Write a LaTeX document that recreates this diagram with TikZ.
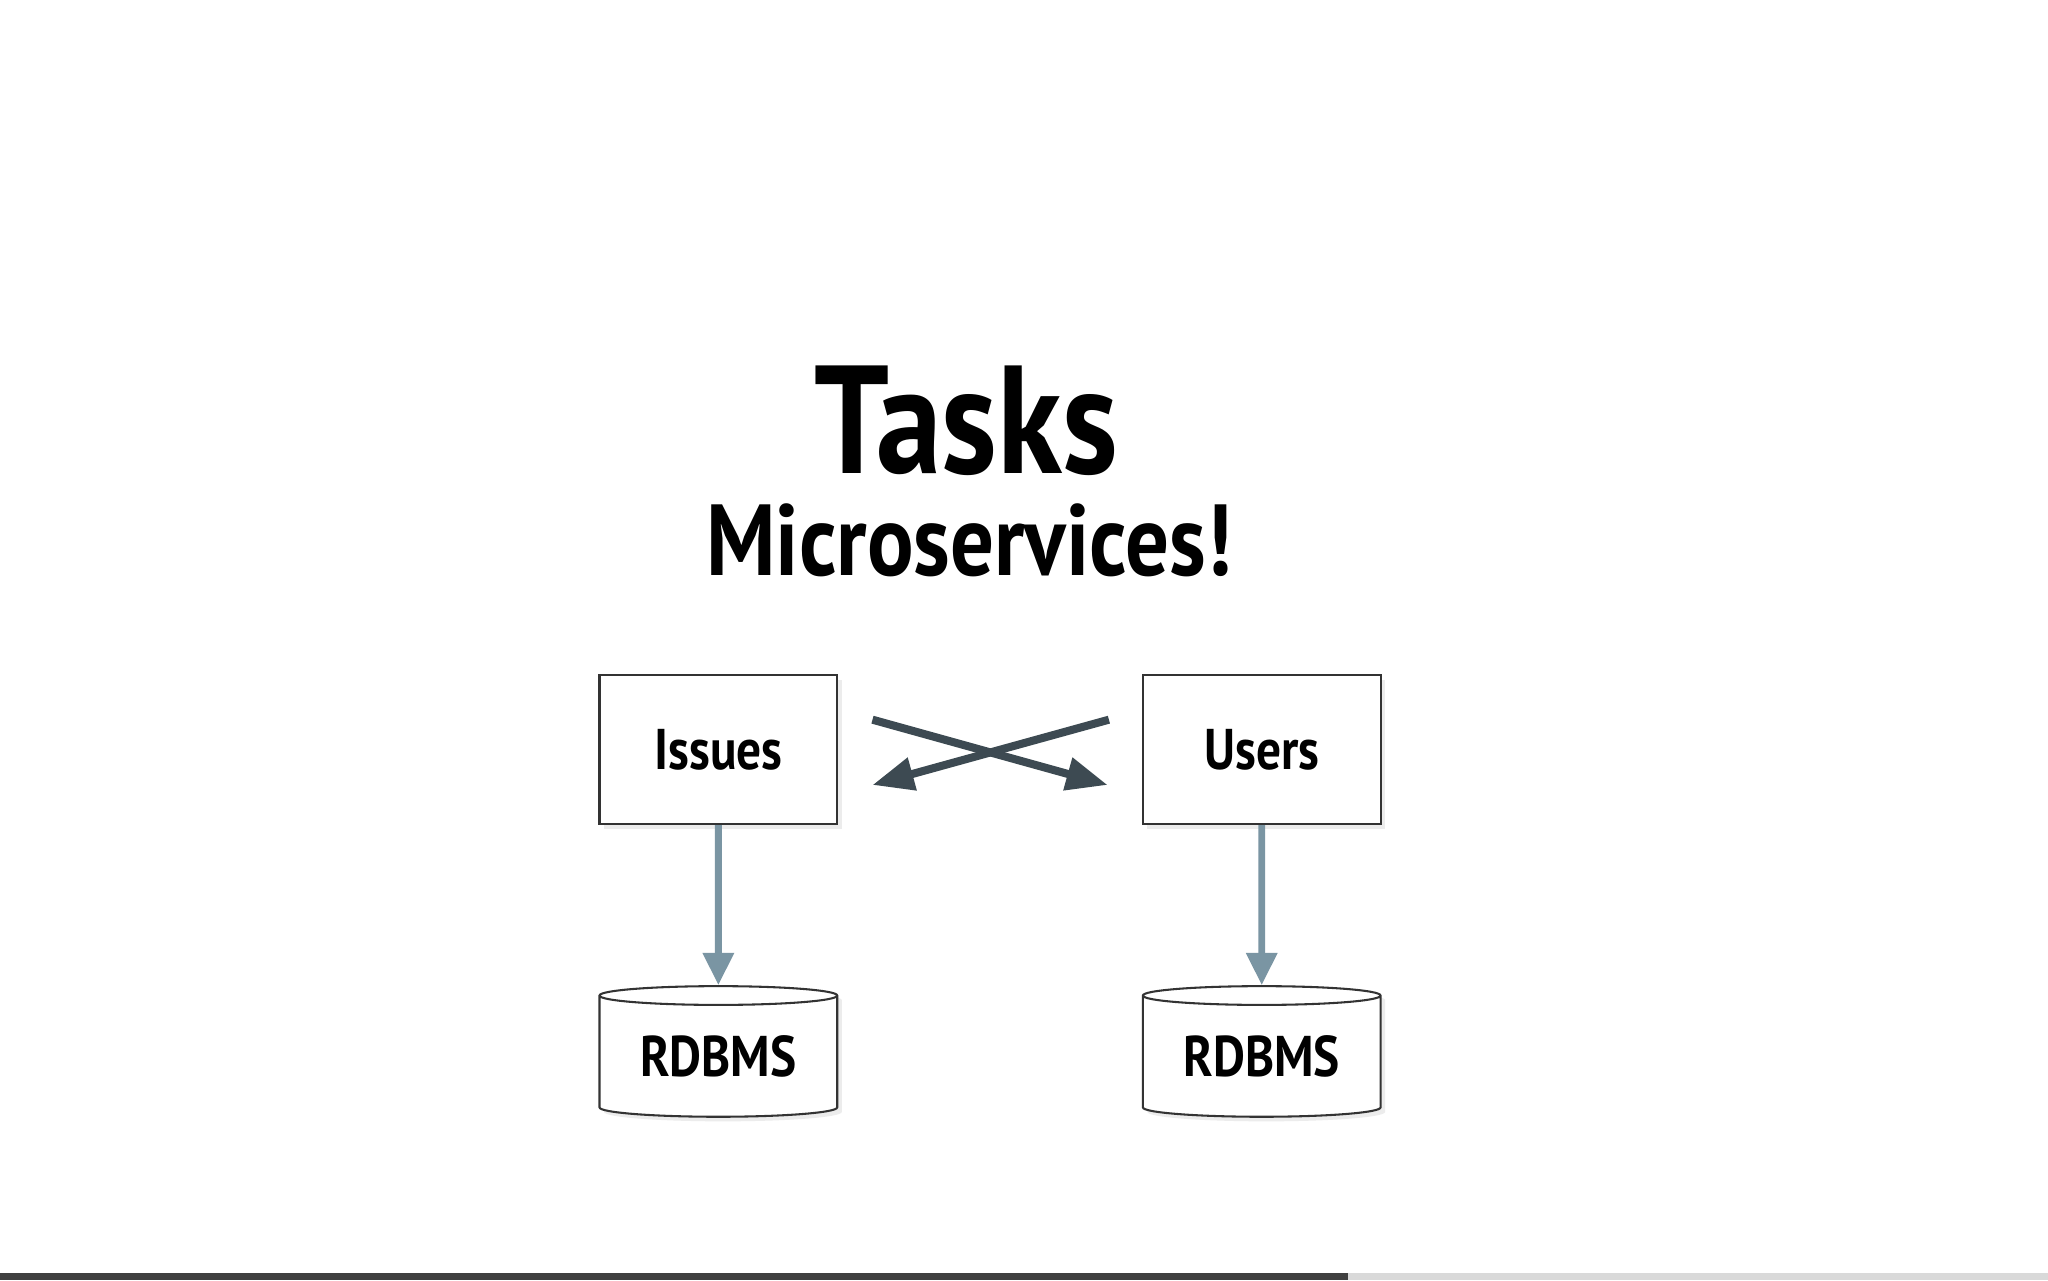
\documentclass[tikz,border=0pt]{standalone}
\usepackage{fontspec}
\setmainfont{PT Sans}[FakeStretch=0.86]
\usetikzlibrary{shapes.geometric,arrows.meta,shadows}
\definecolor{arrblue}{HTML}{7A95A3}
\definecolor{arrdark}{HTML}{3D4A52}
\begin{document}
\begin{tikzpicture}[x=0.02cm,y=-0.02cm,
  svc/.style={draw=black!80,line width=0.9pt,fill=white,minimum width=182*0.02cm,minimum height=114*0.02cm,inner sep=0,
     drop shadow={shadow xshift=2pt,shadow yshift=-2pt,opacity=0.15},font=\fontsize{25}{28}\bfseries\selectfont},
  db/.style={draw=black!80,line width=0.9pt,fill=white,cylinder,shape border rotate=90,aspect=0.12,
     minimum width=182*0.02cm,minimum height=100*0.02cm,inner sep=0,
     drop shadow={shadow xshift=2pt,shadow yshift=-2pt,opacity=0.15},font=\fontsize{25}{28}\bfseries\selectfont},
  down/.style={draw=arrblue,line width=3pt,-{Triangle[length=14pt,width=13pt]}},
  cross/.style={draw=arrdark,line width=3.5pt,-{Triangle[length=18pt,width=14pt]}},
  ttl/.style={inner sep=0}]
\useasboundingbox (0,0) rectangle (1568,980);
\fill[white] (0,0) rectangle (1568,980);
\fill[black!75] (0,975) rectangle (1032,980);
\fill[black!15] (1032,975) rectangle (1568,980);
\node[ttl,font=\fontsize{67}{74}\bfseries\selectfont] (t) at (740,322) {Tasks};
\node[ttl,font=\fontsize{44}{50}\bfseries\selectfont] (m) at (742,414) {Microservices!};
\node[svc] (i) at (550,574) {Issues};
\node[svc] (u) at (966,574) {Users};
\node[db] (d1) at (550,809) {RDBMS};
\node[db] (d2) at (966,809) {RDBMS};
\coordinate (a1) at (668,551); \coordinate (b1) at (848,601);
\coordinate (a2) at (849,551); \coordinate (b2) at (668,601);
\draw[cross] (a1) -- (b1);
\draw[cross] (a2) -- (b2);
\draw[down] (i.south) -- (d1.north);
\draw[down] (u.south) -- (d2.north);
\end{tikzpicture}
\end{document}
